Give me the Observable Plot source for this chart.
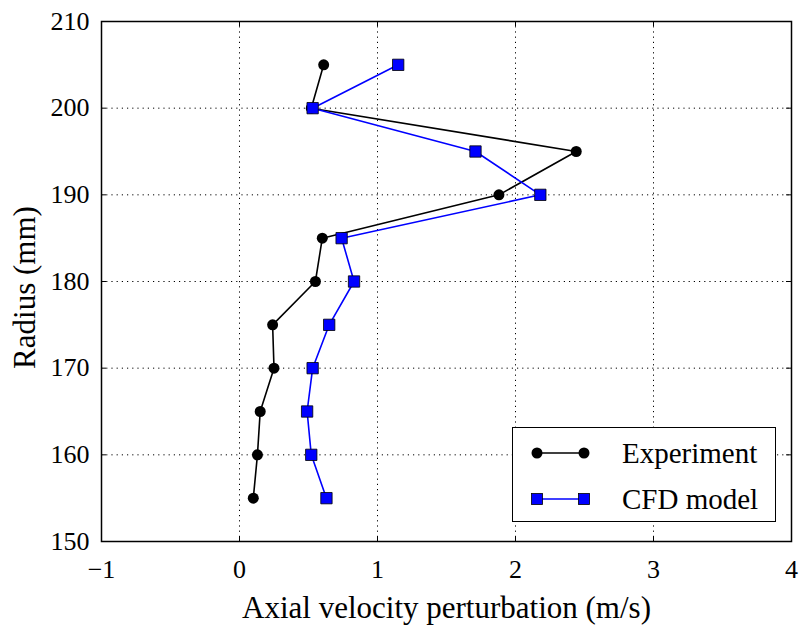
<!DOCTYPE html>
<html>
<head>
<meta charset="utf-8">
<style>
  html, body { margin: 0; padding: 0; background: #fff; overflow: hidden; }
  #legend { position: absolute; left: 512px; top: 427px; width: 262px; height: 93px; border: 1.5px solid #000; background: #fff; }
  .row { position: absolute; left: 0; height: 30px; display: flex; align-items: center; }
  .row svg { margin-left: 16px; }
  .row span { position: absolute; left: 109px; white-space: nowrap; }
  .pre { position: absolute; left: 120px; top: 30px; color: #fff; font-family: 'Liberation Serif'; font-size: 26px; white-space: nowrap; }
</style>
</head>
<body>
<div class="pre">Axial Radius Experiment CFD 0123456789−</div>
<div id="wrap" style="position:relative;width:801px;height:630px;font-family:'Liberation Serif'"></div>
<script src="https://cdn.jsdelivr.net/npm/d3@7"></script>
<script src="https://cdn.jsdelivr.net/npm/@observablehq/plot@0.6"></script>
<script>
const radius = [205, 200, 195, 190, 185, 180, 175, 170, 165, 160, 155];
const experiment = [0.61, 0.52, 2.44, 1.88, 0.60, 0.55, 0.24, 0.25, 0.15, 0.13, 0.10];
const cfdModel = [1.15, 0.53, 1.71, 2.18, 0.74, 0.83, 0.65, 0.53, 0.49, 0.52, 0.63];
const xTicks = [-1, 0, 1, 2, 3, 4];
const yTicks = [150, 160, 170, 180, 190, 200, 210];
const seriesNames = ["Experiment", "CFD model"];
const xLabel = "Axial velocity perturbation (m/s)";
const yLabel = "Radius (mm)";

const expData = radius.map((r, i) => ({r, v: experiment[i]}));
const cfdData = radius.map((r, i) => ({r, v: cfdModel[i]}));

const W = 801, H = 630, mL = 101, mR = 10, mT = 21, mB = 89;
const pw = W - mL - mR, ph = H - mT - mB;
const fmt = d => (d < 0 ? "\u2212" + Math.abs(d) : String(d));
const FF = "Liberation Serif";
const FS = 26, LS = 31, GS = 29;

if (document.fonts) { document.fonts.load("26px 'Liberation Serif'"); }

const chart = Plot.plot({
  width: W, height: H,
  marginLeft: mL, marginRight: mR, marginTop: mT, marginBottom: mB,
  style: {fontFamily: "'Liberation Serif'", fontSize: FS + "px", color: "#000", background: "#fff"},
  x: {domain: [-1, 4]},
  y: {domain: [150, 210]},
  marks: [
    Plot.gridX(xTicks, {stroke: "#000", strokeOpacity: 1, strokeWidth: 1, strokeDasharray: "1.2,4"}),
    Plot.gridY(yTicks, {stroke: "#000", strokeOpacity: 1, strokeWidth: 1, strokeDasharray: "1.2,4"}),
    Plot.ruleX(xTicks, {stroke: "#000", insetTop: ph - 5}),
    Plot.ruleX(xTicks, {stroke: "#000", insetBottom: ph - 5}),
    Plot.ruleY(yTicks, {stroke: "#000", insetRight: pw - 5}),
    Plot.ruleY(yTicks, {stroke: "#000", insetLeft: pw - 5}),
    Plot.axisX(xTicks, {tickSize: 0, tickPadding: 18, tickFormat: fmt, fontSize: FS, fontFamily: FF, label: null}),
    Plot.axisY(yTicks, {tickSize: 0, tickPadding: 12, fontSize: FS, fontFamily: FF, label: null}),
    Plot.text([xLabel], {frameAnchor: "bottom", dy: 67, fontSize: LS, fontFamily: FF, lineAnchor: "middle", textAnchor: "middle"}),
    Plot.text([yLabel], {frameAnchor: "left", dx: -76, dy: 6, rotate: -90, fontSize: LS, fontFamily: FF, lineAnchor: "middle", textAnchor: "middle"}),
    Plot.line(expData, {x: "v", y: "r", stroke: "#000", strokeWidth: 1.6}),
    Plot.dot(expData, {x: "v", y: "r", r: 5.5, fill: "#000", stroke: "none"}),
    Plot.line(cfdData, {x: "v", y: "r", stroke: "#0000ff", strokeWidth: 1.6}),
    Plot.dot(cfdData, {x: "v", y: "r", r: 6.4, symbol: "square", fill: "#0000ff", stroke: "#000", strokeWidth: 0.8}),
    Plot.frame({stroke: "#000", strokeWidth: 1.5})
  ]
});
chart.setAttribute("font-family", FF);
const wrap = document.getElementById("wrap");
wrap.appendChild(chart);

const legend = document.createElement("div");
legend.id = "legend";
const spanStyle = `font-family:'Liberation Serif';font-size:${GS}px`;
legend.innerHTML = `
  <div class="row" style="top:10px">
    <svg width="70" height="20"><line x1="8" y1="10" x2="55" y2="10" stroke="#000" stroke-width="1.6"/>
      <circle cx="8" cy="10" r="5.5" fill="#000"/><circle cx="55" cy="10" r="5.5" fill="#000"/></svg>
    <span style="${spanStyle}">${seriesNames[0]}</span></div>
  <div class="row" style="top:56px">
    <svg width="70" height="20"><line x1="8" y1="10" x2="55" y2="10" stroke="#0000ff" stroke-width="1.6"/>
      <rect x="2.5" y="4.5" width="11" height="11" fill="#0000ff" stroke="#000" stroke-width="0.8"/>
      <rect x="49.5" y="4.5" width="11" height="11" fill="#0000ff" stroke="#000" stroke-width="0.8"/></svg>
    <span style="${spanStyle}">${seriesNames[1]}</span></div>`;
wrap.appendChild(legend);

// force style/layout now so the serif face is requested before the page finishes loading
const firstText = chart.querySelector("text");
const _ok = document.fonts ? document.fonts.check("26px 'Liberation Serif'") : true;
const _ff = firstText ? getComputedStyle(firstText).fontFamily : "";
void document.body.offsetHeight;
</script>
</body>
</html>
